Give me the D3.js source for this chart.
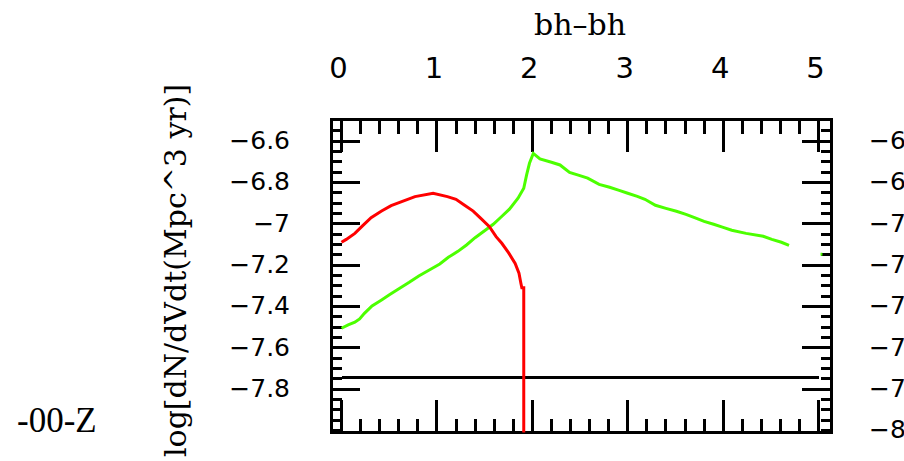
<!DOCTYPE html>
<html>
<head>
<meta charset="utf-8">
<script src="https://cdn.jsdelivr.net/npm/d3@7"></script>
<style>
  html, body { margin: 0; padding: 0; background: #fff; }
  svg { display: block; }
</style>
</head>
<body>
<script>
// ---- data ----
const xTickLabels = ["0", "1", "2", "3", "4", "5"];
const xMajorTicks = [0, 1, 2, 3, 4, 5];
const yLeftLabels = [-6.6, -6.8, -7, -7.2, -7.4, -7.6, -7.8];
const yRightLabels = [-6.6, -6.8, -7, -7.2, -7.4, -7.6, -7.8, -8];
const yMajorTicks = [-6.6, -6.8, -7.0, -7.2, -7.4, -7.6, -7.8];

const redX = [0, 0.05, 0.14, 0.22, 0.31, 0.42, 0.52, 0.61, 0.77, 0.96, 1.11, 1.20, 1.29, 1.38, 1.46, 1.55, 1.62, 1.68, 1.75, 1.82, 1.86, 1.88, 1.89, 1.91, 1.91];
const redY = [-7.09, -7.076, -7.047, -7.011, -6.971, -6.939, -6.913, -6.897, -6.869, -6.853, -6.869, -6.882, -6.911, -6.939, -6.974, -7.015, -7.063, -7.095, -7.14, -7.192, -7.24, -7.288, -7.31, -7.31, -8.3];

const greenX = [0, 0.07, 0.14, 0.19, 0.24, 0.32, 0.42, 0.51, 0.61, 0.71, 0.81, 0.92, 1.03, 1.12, 1.22, 1.31, 1.40, 1.51, 1.59, 1.67, 1.76, 1.85, 1.91, 1.94, 1.97, 2.01, 2.08, 2.20, 2.29, 2.39, 2.49, 2.58, 2.70, 2.81, 2.91, 3.00, 3.10, 3.18, 3.29, 3.40, 3.51, 3.61, 3.70, 3.80, 3.90, 4.00, 4.09, 4.24, 4.42, 4.51, 4.61, 4.69];
const greenY = [-7.506, -7.49, -7.477, -7.461, -7.434, -7.398, -7.369, -7.342, -7.313, -7.284, -7.253, -7.224, -7.195, -7.163, -7.134, -7.103, -7.068, -7.031, -7.003, -6.969, -6.93, -6.877, -6.829, -6.764, -6.708, -6.66, -6.687, -6.703, -6.716, -6.752, -6.766, -6.78, -6.81, -6.824, -6.839, -6.853, -6.868, -6.882, -6.911, -6.926, -6.94, -6.955, -6.971, -6.989, -7.003, -7.018, -7.032, -7.047, -7.061, -7.076, -7.09, -7.105];
const greenTailX = [5.02, 5.04];
const greenTailY = [-7.148, -7.148];

const blackX = [0, 5.0];
const blackY = [-7.743, -7.743];

const xDomain = [-0.105, 5.13];
const yDomain = [-8.01, -6.496];

// ---- layout ----
const W = 904, H = 461;
const x = d3.scaleLinear().domain([0, 5]).range([341.5, 818.6]);
const y = d3.scaleLinear().domain([-6.6, -7.8]).range([141, 389]);

const svg = d3.select("body").append("svg").attr("width", W).attr("height", H);
svg.append("rect").attr("width", W).attr("height", H).attr("fill", "#fff");

const L = x(xDomain[0]), R = x(xDomain[1]), T = y(yDomain[1]), B = y(yDomain[0]);

svg.append("defs").append("clipPath").attr("id", "plotclip")
  .append("rect").attr("x", L).attr("y", T).attr("width", R - L).attr("height", B - T);

const axes = svg.append("g").attr("stroke", "#000").attr("shape-rendering", "crispEdges");

// minor/major x ticks (top and bottom)
const xMinor = d3.range(0, 5.0001, 0.2).map(v => +v.toFixed(2));
xMinor.forEach(v => {
  const major = Math.abs(v - Math.round(v)) < 1e-6;
  axes.append("line").attr("x1", x(v)).attr("x2", x(v)).attr("y1", T).attr("y2", T + (major ? 32 : 14.5)).attr("stroke-width", 3);
  axes.append("line").attr("x1", x(v)).attr("x2", x(v)).attr("y1", B).attr("y2", B - (major ? 32 : 13)).attr("stroke-width", 3);
});
// y ticks (left and right)
const yMinor = d3.range(0, 30).map(i => +(-6.55 - 0.05 * i).toFixed(2)).filter(v => v >= -8.0);
yMinor.forEach(v => {
  const major = yMajorTicks.some(m => Math.abs(m - v) < 1e-6);
  axes.append("line").attr("x1", L).attr("x2", L + (major ? 29 : 10.5)).attr("y1", y(v)).attr("y2", y(v)).attr("stroke-width", 3);
  axes.append("line").attr("x1", R).attr("x2", R - (major ? 29 : 10.5)).attr("y1", y(v)).attr("y2", y(v)).attr("stroke-width", 3);
});
// frame
axes.append("rect").attr("x", L).attr("y", T).attr("width", R - L).attr("height", B - T)
  .attr("fill", "none").attr("stroke-width", 3);

// ---- series ----
const line = d3.line().x(d => x(d[0])).y(d => y(d[1]));
const plot = svg.append("g").attr("clip-path", "url(#plotclip)");
const zip = (a, b) => a.map((v, i) => [v, b[i]]);

plot.append("path").datum(zip(blackX, blackY)).attr("d", line)
  .attr("fill", "none").attr("stroke", "#000").attr("stroke-width", 3).attr("shape-rendering", "crispEdges");
plot.append("path").datum(zip(greenX, greenY)).attr("d", line)
  .attr("fill", "none").attr("stroke", "#4cff00").attr("stroke-width", 3);
plot.append("path").datum(zip(greenTailX, greenTailY)).attr("d", line)
  .attr("fill", "none").attr("stroke", "#4cff00").attr("stroke-width", 3);
plot.append("path").datum(zip(redX, redY)).attr("d", line)
  .attr("fill", "none").attr("stroke", "#ff0000").attr("stroke-width", 3);

// ---- texts ----
const fmt = v => String(v).replace("-", "\u2212");

svg.append("g").selectAll("text").data(xMajorTicks).join("text")
  .attr("x", d => x(d) - 3).attr("y", 78)
  .attr("text-anchor", "middle")
  .attr("font-family", "DejaVu Sans").attr("font-size", 29)
  .text((d, i) => xTickLabels[i]);

svg.append("g").selectAll("text").data(yLeftLabels).join("text")
  .attr("x", 290).attr("y", d => y(d) + 8)
  .attr("text-anchor", "end")
  .attr("font-family", "DejaVu Sans").attr("font-size", 25)
  .text(d => fmt(d));

svg.append("g").selectAll("text").data(yRightLabels).join("text")
  .attr("x", 869).attr("y", d => y(d) + 8)
  .attr("text-anchor", "start")
  .attr("font-family", "DejaVu Sans").attr("font-size", 25)
  .text(d => fmt(d));

svg.append("text").attr("x", 580).attr("y", 35).attr("text-anchor", "middle")
  .attr("font-family", "DejaVu Serif").attr("font-size", 30).text("bh\u2013bh");

svg.append("text")
  .attr("transform", "translate(186,457) rotate(-90)")
  .attr("text-anchor", "start")
  .attr("font-family", "DejaVu Serif").attr("font-size", 30)
  .text("log[dN/dVdt(Mpc^3 yr)]");

svg.append("text").attr("x", 17).attr("y", 432)
  .attr("font-family", "Liberation Serif").attr("font-size", 35).text("-00-Z");
</script>
</body>
</html>
